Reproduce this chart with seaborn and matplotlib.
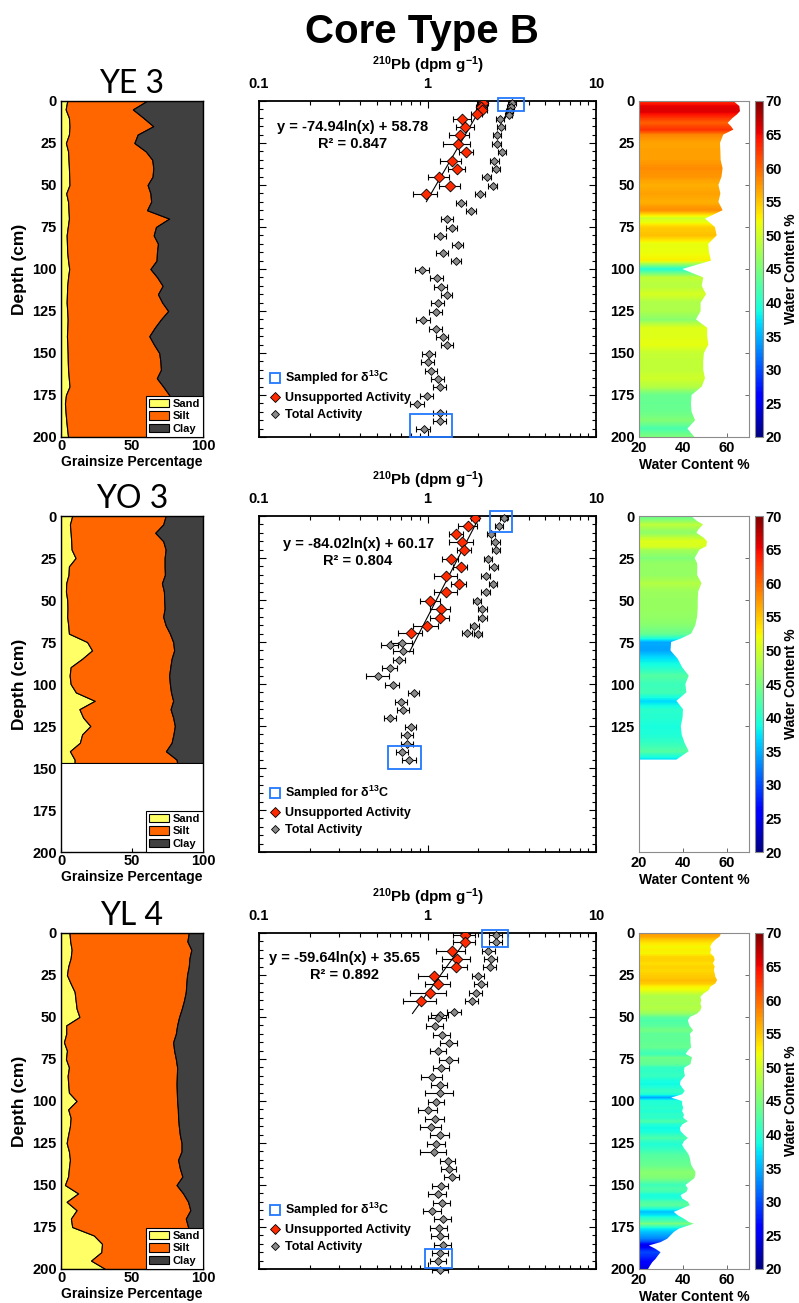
import numpy as np
import matplotlib
matplotlib.use("Agg")
import matplotlib.pyplot as plt
import seaborn as sns
from matplotlib.lines import Line2D
from matplotlib.patches import Patch, Rectangle
from matplotlib.ticker import LogLocator, MultipleLocator, FixedLocator, NullFormatter, FixedFormatter
import matplotlib.colors as mcolors
import matplotlib.cm as cm

sns.set_style("ticks")
plt.rcParams["font.family"] = ["Liberation Sans", "DejaVu Sans"]
plt.rcParams["font.weight"] = "bold"
plt.rcParams["axes.labelweight"] = "bold"
plt.rcParams["text.color"] = "black"
plt.rcParams["axes.labelcolor"] = "black"
plt.rcParams["xtick.color"] = "black"
plt.rcParams["ytick.color"] = "black"
plt.rcParams["mathtext.fontset"] = "custom"
plt.rcParams["mathtext.rm"] = "Liberation Sans:bold"
plt.rcParams["mathtext.it"] = "Liberation Sans:bold"
plt.rcParams["mathtext.bf"] = "Liberation Sans:bold"
plt.rcParams["mathtext.default"] = "rm"

# ---------------------------------------------------------------- data
cores = ["YE 3", "YO 3", "YL 4"]

# grain size (depth in cm, percentages)
ye3_gs_depth = list(range(0, 201, 5))
ye3_sand = [4.4, 3.3, 5.6, 6.0, 5.6, 3.5, 5.0, 5.3, 5.6, 5.8, 6.0, 3.7, 5.0, 5.3, 5.6, 4.8, 4.0, 4.2, 4.4, 5.0,
            5.8, 5.0, 4.4, 4.2, 4.0, 4.4, 4.7, 4.5, 4.2, 4.5, 4.7, 4.8, 5.0, 5.5, 6.0, 3.5, 2.8, 3.2, 3.7, 4.3, 5.0]
ye3_clay = [39.6, 49.4, 42.0, 35.0, 46.0, 48.3, 40.3, 35.7, 35.0, 35.5, 39.0, 37.0, 36.5, 39.4, 23.8, 33.1, 34.7,
            31.7, 32.4, 32.7, 37.0, 32.2, 28.4, 31.7, 28.7, 24.5, 29.6, 34.0, 37.8, 34.5, 30.8, 30.0, 29.6, 32.5,
            28.0, 23.8, 23.3, 23.5, 23.5, 23.7, 23.8]

yo3_gs_depth = list(range(0, 146, 5)) + [147]
yo3_sand = [7.9, 6.3, 6.8, 7.2, 7.5, 10.3, 5.6, 5.3, 3.7, 3.5, 4.4, 4.6, 4.4, 5.1, 5.6, 18.4, 21.9, 14.9, 6.8,
            6.1, 6.8, 10.5, 23.8, 13.0, 15.6, 20.7, 14.9, 13.3, 6.3, 9.6, 9.6]
yo3_clay = [26.3, 28.0, 33.6, 28.0, 26.3, 27.0, 27.0, 26.8, 28.9, 27.5, 27.3, 27.0, 28.0, 26.3, 23.3, 21.0, 20.3,
            22.1, 23.0, 23.8, 23.3, 22.5, 21.0, 22.8, 21.0, 19.8, 20.8, 22.1, 26.1, 18.6, 18.2]

yl4_gs_depth = list(range(0, 201, 5))
yl4_sand = [6.0, 6.5, 7.5, 6.8, 5.1, 4.2, 6.8, 9.6, 10.3, 11.0, 13.0, 3.7, 3.7, 2.1, 4.2, 3.5, 5.6, 4.7, 5.1, 5.6,
            11.0, 5.1, 6.8, 6.3, 5.1, 4.0, 5.6, 6.3, 5.6, 5.0, 2.8, 12.1, 4.0, 11.0, 7.0, 7.9, 23.1, 28.9, 28.4,
            21.2, 31.2]
yl4_clay = [10.0, 11.0, 8.2, 9.5, 10.0, 11.2, 11.7, 12.1, 13.3, 14.9, 16.8, 18.2, 19.1, 21.0, 20.3, 19.1, 18.2,
            18.4, 18.6, 18.4, 18.2, 17.7, 17.5, 17.0, 16.3, 15.1, 15.1, 17.5, 16.3, 14.5, 18.6, 14.0, 10.5, 8.9,
            12.1, 10.5, 10.0, 10.0, 10.0, 10.0, 10.0]

# 210Pb unsupported activity (dpm/g)
ye3_unsup_depth = [1, 3.5, 5.5, 8, 10.5, 15.5, 20.5, 25.5, 30.5, 35.5, 40.5, 45.5, 50.5, 55.5]
ye3_unsup = [2.13, 2.09, 2.12, 1.97, 1.61, 1.68, 1.56, 1.51, 1.70, 1.39, 1.49, 1.17, 1.36, 0.98]
ye3_unsup_err = [0.15, 0.15, 0.15, 0.15, 0.20, 0.20, 0.21, 0.28, 0.17, 0.20, 0.17, 0.17, 0.19, 0.16]

yo3_unsup_depth = [1, 6, 10.5, 15.5, 20.5, 25.5, 30.5, 35.5, 40.5, 45.5, 50.5, 55.5, 60.5, 65.5, 69.5]
yo3_unsup = [1.91, 1.74, 1.48, 1.60, 1.65, 1.37, 1.57, 1.29, 1.54, 1.29, 1.04, 1.20, 1.19, 0.99, 0.80]
yo3_unsup_err = [0.10, 0.23, 0.14, 0.25, 0.15, 0.15, 0.15, 0.20, 0.16, 0.20, 0.14, 0.16, 0.16, 0.17, 0.13]

yl4_unsup_depth = [1, 5.5, 10.5, 15.5, 20.5, 25.5, 30.5, 35.5, 40.5]
yl4_unsup = [1.66, 1.66, 1.40, 1.50, 1.47, 1.09, 1.16, 1.04, 0.92]
yl4_unsup_err = [0.25, 0.25, 0.27, 0.28, 0.25, 0.21, 0.20, 0.25, 0.20]

# 210Pb total activity (dpm/g)
ye3_total_depth = [1, 3.5, 6, 8.5] + [10.5 + 5 * i for i in range(38)]
ye3_total = [3.18, 3.12, 3.08, 3.04, 2.69, 2.74, 2.60, 2.58, 2.77, 2.49, 2.56, 2.24, 2.44, 2.06,
             1.59, 1.82, 1.31, 1.39, 1.19, 1.51, 1.23, 1.48, 0.93, 1.14, 1.20, 1.30, 1.15, 1.12, 0.94, 1.12,
             1.23, 1.31, 1.02, 1.00, 1.05, 1.15, 1.18, 0.99, 0.87, 1.18, 1.18, 0.95]
ye3_total_err = [0.15, 0.15, 0.14, 0.14, 0.15, 0.15, 0.14, 0.15, 0.14, 0.15, 0.15, 0.14, 0.15, 0.14,
                 0.11, 0.12, 0.10, 0.10, 0.10, 0.11, 0.10, 0.11, 0.09, 0.10, 0.10, 0.10, 0.10, 0.10, 0.09, 0.10,
                 0.10, 0.10, 0.09, 0.09, 0.09, 0.10, 0.10, 0.09, 0.08, 0.10, 0.10, 0.09]

yo3_total_depth = [1, 6, 10.5, 15.5, 20.5, 25.5, 30.5, 35.5, 40.5, 45.5, 50.5, 55.5, 60.5, 65.5, 69.5, 70.5,
                   75.5, 76.5, 80.5, 85.5, 90.5, 95.5, 100.5, 105.5, 110.5, 115.5, 120.5, 125.5, 130.5, 135.5,
                   140.5, 145.5]
yo3_total = [2.83, 2.66, 2.38, 2.53, 2.55, 2.28, 2.48, 2.21, 2.46, 2.21, 1.97, 2.12, 2.12, 1.90, 1.72, 2.00,
             0.71, 0.60, 0.72, 0.68, 0.60, 0.51, 0.62, 0.83, 0.70, 0.72, 0.60, 0.80, 0.76, 0.76, 0.71, 0.78]
yo3_total_err = [0.15, 0.14, 0.13, 0.15, 0.14, 0.13, 0.15, 0.13, 0.14, 0.13, 0.12, 0.13, 0.13, 0.12, 0.11, 0.12,
                 0.10, 0.07, 0.10, 0.06, 0.06, 0.08, 0.06, 0.06, 0.06, 0.06, 0.05, 0.06, 0.06, 0.06, 0.06, 0.07]

yl4_total_depth = [1, 5.5, 10.5, 15.5, 20.5, 25.5, 30.5, 35.5, 40.5, 47, 49, 50.5] + [55.5 + 5 * i for i in range(30)]
yl4_total = [2.54, 2.54, 2.30, 2.38, 2.34, 2.00, 2.07, 1.94, 1.83, 1.44, 1.19, 1.15,
             1.11, 1.22, 1.34, 1.16, 1.34, 1.21, 1.07, 1.18, 1.19, 1.13, 1.01, 1.11, 1.05, 1.19, 1.13, 1.09,
             1.32, 1.34, 1.40, 1.20, 1.15, 1.22, 1.07, 1.24, 1.17, 1.19, 1.24, 1.19, 1.16, 1.19]
yl4_total_err = [0.22, 0.22, 0.20, 0.22, 0.20, 0.17, 0.17, 0.17, 0.16, 0.14, 0.14, 0.14,
                 0.13, 0.14, 0.15, 0.13, 0.17, 0.13, 0.15, 0.13, 0.22, 0.13, 0.13, 0.14, 0.15, 0.16, 0.14, 0.19,
                 0.13, 0.14, 0.14, 0.13, 0.14, 0.14, 0.13, 0.14, 0.13, 0.14, 0.14, 0.13, 0.13, 0.13]

# log fits of unsupported activity: depth = -a ln(x) + b
fit_a = [74.94, 84.02, 59.64]
fit_b = [58.78, 60.17, 35.65]
fit_r2 = [0.847, 0.804, 0.892]
fit_depth_end = [60, 81, 48]

# intervals sampled for d13C: (top depth, bottom depth, low activity, high activity)
ye3_sampled = [(-1.5, 6.0, 2.62, 3.74), (186.5, 200.0, 0.79, 1.39)]
yo3_sampled = [(-3.0, 9.3, 2.34, 3.19), (137.0, 150.5, 0.58, 0.91)]
yl4_sampled = [(-2.0, 8.3, 2.12, 3.02), (188.0, 199.6, 0.97, 1.39)]

# water content (%)
ye3_wc_depth = [0, 3, 6, 8, 10, 13, 15, 17, 20, 25, 30, 35, 40, 45, 50, 55, 60, 65, 70, 75, 80, 85, 90, 95, 100,
                105, 110, 115, 120, 125, 130, 135, 140, 145, 150, 155, 160, 165, 170, 175, 180, 185, 190, 195, 200]
ye3_wc = [62.9, 65.6, 65.9, 64.5, 62.6, 60.3, 61.8, 62.9, 58.3, 56.8, 57.0, 57.1, 58.0, 57.5, 56.1, 57.0, 56.1,
          58.0, 50.0, 54.5, 55.3, 51.5, 51.8, 52.7, 39.7, 49.2, 48.5, 50.5, 48.0, 48.0, 45.9, 51.0, 51.0, 51.5,
          49.5, 49.2, 49.2, 50.0, 48.5, 43.9, 43.6, 43.9, 45.5, 42.0, 45.2]

yo3_wc_depth = [0, 3, 5, 8, 10, 13, 15, 18, 20, 25, 28, 30, 35, 40, 45, 50, 55, 60, 65, 70, 73, 75, 80, 85, 90,
                95, 100, 105, 110, 115, 120, 125, 130, 135, 140, 145]
yo3_wc = [43.7, 46.4, 49.1, 47.0, 46.1, 49.5, 50.9, 50.6, 47.5, 45.3, 46.4, 46.5, 46.4, 48.4, 46.9, 46.7, 46.7,
          46.4, 45.6, 43.7, 38.9, 34.6, 34.3, 37.6, 39.6, 42.6, 41.1, 41.5, 37.0, 40.0, 39.8, 39.0, 39.4, 40.7,
          42.6, 37.0]

yl4_wc_depth = (list(range(0, 53, 2)) + [55, 58, 60, 62, 65, 68, 70, 72, 74, 76, 78, 80, 82, 85, 88]
                + list(range(90, 173, 2)) + [173, 175, 176, 178] + list(range(180, 201, 2)))
yl4_wc = [57.3, 56.7, 54.7, 53.2, 52.4, 52.7, 52.4, 54.0, 54.4, 53.6, 54.4, 54.0, 54.4, 54.7, 55.5, 54.7, 52.4,
          51.7, 49.4, 47.9, 48.3, 47.9, 48.4, 47.9, 46.4, 43.1, 42.2,
          42.9, 44.6, 43.1, 43.4, 43.4, 43.7, 42.2, 41.2, 44.1, 43.7, 43.4, 40.7, 40.4, 40.9, 38.9,
          38.6, 39.6, 40.8, 39.6, 34.6, 39.6, 39.6, 40.1, 39.6, 40.4, 40.1, 42.2, 39.6, 38.6, 38.9, 40.4, 42.2,
          40.4, 39.6, 40.4, 41.6, 42.6, 43.1, 43.4, 43.7, 44.6, 45.6, 45.6, 45.1, 43.1, 41.1, 42.2, 41.6, 38.9,
          39.6, 42.2, 43.1, 39.6, 35.8, 37.6, 40.4, 42.6,
          44.9, 40.4, 38.1, 35.8,
          34.3, 32.8, 29.8, 24.5, 27.5, 29.8, 28.6, 27.5, 26.0, 25.0, 24.1]

wc_depth_ticks = [list(range(0, 201, 25)), list(range(0, 126, 25)), list(range(0, 201, 25))]

grain = [(ye3_gs_depth, ye3_sand, ye3_clay), (yo3_gs_depth, yo3_sand, yo3_clay), (yl4_gs_depth, yl4_sand, yl4_clay)]
unsup = [(ye3_unsup_depth, ye3_unsup, ye3_unsup_err), (yo3_unsup_depth, yo3_unsup, yo3_unsup_err),
         (yl4_unsup_depth, yl4_unsup, yl4_unsup_err)]
total = [(ye3_total_depth, ye3_total, ye3_total_err), (yo3_total_depth, yo3_total, yo3_total_err),
         (yl4_total_depth, yl4_total, yl4_total_err)]
sampled = [ye3_sampled, yo3_sampled, yl4_sampled]
water = [(ye3_wc_depth, ye3_wc), (yo3_wc_depth, yo3_wc), (yl4_wc_depth, yl4_wc)]

# ---------------------------------------------------------------- style
SAND = "#FFFF66"
SILT = "#FF6600"
CLAY = "#404040"
RED = "#FF2A00"
GREY = "#8A8A8A"
BLUE = "#2277FF"
FRAME_GREY = "#8C8C8C"
wc_norm = mcolors.Normalize(vmin=20, vmax=70)
wc_cmap = plt.get_cmap("jet")

W, H = 799, 1303
fig = plt.figure(figsize=(W / 100, H / 100), dpi=100)


def box(x0, y0, x1, y1):
    return [x0 / W, 1 - y1 / H, (x1 - x0) / W, (y1 - y0) / H]


row_tops = [101, 516, 933]
ROW_H = 336

fig.text(0.528, 1 - 32 / H, "Core Type B", ha="center", va="center", fontsize=29, weight="bold",
         color="black")

for i, core in enumerate(cores):
    top = row_tops[i]
    bot = top + ROW_H

    # ---------------- grain size
    ax = fig.add_axes(box(61, top, 203, bot))
    d, sand, clay = (np.array(v, dtype=float) for v in grain[i])
    silt = 100 - sand - clay
    ax.fill_betweenx(d, 0, sand, facecolor=SAND, edgecolor="k", lw=0.8, zorder=1)
    ax.fill_betweenx(d, sand, sand + silt, facecolor=SILT, edgecolor="k", lw=0.8, zorder=1)
    ax.fill_betweenx(d, sand + silt, 100, facecolor=CLAY, edgecolor="k", lw=0.8, zorder=1)
    ax.set_axisbelow(True)
    ax.set_xlim(0, 100)
    ax.set_ylim(200, 0)
    ax.set_xticks([0, 50, 100])
    ax.set_yticks(range(0, 201, 25))
    ax.tick_params(axis="x", direction="in", length=3, pad=1.5, labelsize=10.5, top=False)
    ax.tick_params(axis="y", length=0, pad=3, labelsize=10.5)
    for t in ax.get_xticklabels() + ax.get_yticklabels():
        t.set_fontweight("bold")
    for s in ax.spines.values():
        s.set_linewidth(1.0)
        s.set_color("k")
    ax.set_xlabel("Grainsize Percentage", fontsize=10, labelpad=1.5)
    ax.set_ylabel("Depth (cm)", fontsize=12.5, labelpad=4)
    ax.set_title(core, fontsize=23, fontfamily="Lato", fontweight="normal", pad=6)
    leg = ax.legend(handles=[Patch(facecolor=SAND, edgecolor="k", lw=0.8, label="Sand"),
                             Patch(facecolor=SILT, edgecolor="k", lw=0.8, label="Silt"),
                             Patch(facecolor=CLAY, edgecolor="k", lw=0.8, label="Clay")],
                    loc="lower right", borderaxespad=0, fancybox=False, framealpha=1,
                    edgecolor="k", prop={"weight": "bold", "size": 8},
                    handlelength=1.8, handleheight=0.8, handletextpad=0.3,
                    labelspacing=0.2, borderpad=0.3)
    leg.get_frame().set_linewidth(0.8)

    # ---------------- 210Pb
    ax = fig.add_axes(box(259, top, 596, bot))
    ax.set_xscale("log")
    dt, vt, et = (np.array(v, dtype=float) for v in total[i])
    du, vu, eu = (np.array(v, dtype=float) for v in unsup[i])

    a, b = fit_a[i], fit_b[i]
    fd = np.linspace(0, fit_depth_end[i], 50)
    ax.plot(np.exp((b - fd) / a), fd, color="k", lw=0.8, zorder=2)

    ax.errorbar(vt, dt, xerr=et, fmt="none", ecolor="k", elinewidth=0.8, capsize=2, capthick=0.8, zorder=2,
                clip_on=False)
    sns.scatterplot(x=vt, y=dt, ax=ax, marker="D", s=16, color=GREY, edgecolor="k", linewidth=0.6,
                    zorder=3, clip_on=False, legend=False)
    ax.errorbar(vu, du, xerr=eu, fmt="none", ecolor="k", elinewidth=0.8, capsize=2, capthick=0.8, zorder=4)
    sns.scatterplot(x=vu, y=du, ax=ax, marker="D", s=30, color=RED, edgecolor="k", linewidth=0.6,
                    zorder=5, legend=False)

    for (d0, d1, x0, x1) in sampled[i]:
        ax.add_patch(Rectangle((x0, d0), x1 - x0, d1 - d0, facecolor="none", edgecolor=BLUE, lw=1.3,
                               zorder=6, clip_on=False))

    ax.set_xlim(0.1, 10)
    ax.set_ylim(200, 0)
    ax.xaxis.set_major_locator(FixedLocator([0.1, 1, 10]))
    ax.xaxis.set_major_formatter(FixedFormatter(["0.1", "1", "10"]))
    ax.xaxis.set_minor_locator(LogLocator(base=10, subs=np.arange(2, 10)))
    ax.xaxis.set_minor_formatter(NullFormatter())
    ax.yaxis.set_major_locator(MultipleLocator(25))
    ax.yaxis.set_minor_locator(MultipleLocator(5))
    ax.tick_params(axis="x", which="both", direction="in", top=True, bottom=True,
                   labeltop=True, labelbottom=False, pad=7, labelsize=10.5)
    ax.tick_params(axis="x", which="major", length=5, width=0.8)
    ax.tick_params(axis="x", which="minor", length=3, width=0.8)
    ax.tick_params(axis="y", which="both", direction="in", left=True, right=True, labelleft=False)
    ax.tick_params(axis="y", which="major", length=5, width=0.8)
    ax.tick_params(axis="y", which="minor", length=3, width=0.8)
    for t in ax.get_xticklabels():
        t.set_fontweight("bold")
    for s in ax.spines.values():
        s.set_linewidth(1.3)
        s.set_color("k")
    ax.xaxis.set_label_position("top")
    ax.set_xlabel(r"$^{210}$Pb (dpm g$^{-1}$)", fontsize=11, labelpad=5)
    ax.set_ylabel("")

    ex = [0.279, 0.294, 0.255][i]
    ey = [0.077, 0.084, 0.074][i]
    ax.text(ex, 1 - ey, f"y = -{a:.2f}ln(x) + {b:.2f}", transform=ax.transAxes, ha="center", va="center",
            fontsize=10.5, weight="bold")
    ax.text(ex, 1 - ey - 0.05, f"R² = {fit_r2[i]:.3f}", transform=ax.transAxes, ha="center", va="center",
            fontsize=10.5, weight="bold")

    handles = [Line2D([], [], ls="none", marker="s", ms=7, mfc="none", mec=BLUE, mew=1.3,
                      label=r"Sampled for δ$^{13}$C"),
               Line2D([], [], ls="none", marker="D", ms=5, mfc=RED, mec="k", mew=0.6,
                      label="Unsupported Activity"),
               Line2D([], [], ls="none", marker="D", ms=4.5, mfc=GREY, mec="k", mew=0.6,
                      label="Total Activity")]
    ax.legend(handles=handles, loc="lower left", bbox_to_anchor=(0.015, 0.032), borderaxespad=0,
              frameon=False, prop={"weight": "bold", "size": 9}, handlelength=1.0,
              handletextpad=0.3, labelspacing=0.4, borderpad=0.4)

    # ---------------- water content
    ax = fig.add_axes(box(639, top, 749, bot))
    dw = np.array(water[i][0], dtype=float)
    vw = np.array(water[i][1], dtype=float)
    outline = np.vstack([np.column_stack([np.full_like(dw, 20.0), dw]),
                         np.column_stack([vw, dw])[::-1]])
    clip = plt.Polygon(outline, closed=True, facecolor="none", edgecolor="none", transform=ax.transData)
    ax.add_patch(clip)
    fine = np.arange(0, dw.max() + 1e-6, 0.2)
    im = ax.imshow(np.interp(fine, dw, vw)[:, None], cmap=wc_cmap, norm=wc_norm, aspect="auto",
                   extent=[20, 70, fine.max(), 0], interpolation="nearest", zorder=1)
    im.set_clip_path(clip)
    ax.set_axisbelow(True)
    ax.set_xlim(20, 70)
    ax.set_ylim(200, 0)
    ax.set_xticks([20, 40, 60])
    ax.set_yticks(wc_depth_ticks[i])
    ax.tick_params(axis="both", direction="in", length=3, width=0.6, color="#555555",
                   labelsize=10.5, left=True, right=True, bottom=True, top=False, pad=3)
    for t in ax.get_xticklabels() + ax.get_yticklabels():
        t.set_fontweight("bold")
    for s in ax.spines.values():
        s.set_color(FRAME_GREY)
        s.set_linewidth(0.8)
    ax.set_xlabel("Water Content %", fontsize=10, labelpad=2)

    cax = fig.add_axes(box(755, top, 763, bot))
    cb = fig.colorbar(cm.ScalarMappable(norm=wc_norm, cmap=wc_cmap), cax=cax)
    cb.set_ticks(range(20, 71, 5))
    cb.outline.set_edgecolor(FRAME_GREY)
    cb.outline.set_linewidth(0.8)
    cax.tick_params(direction="in", length=3, width=0.6, color="#333333", left=True, right=True,
                    labelsize=10.5, pad=2)
    for t in cax.get_yticklabels():
        t.set_fontweight("bold")
    cb.set_label("Water Content %", fontsize=10, weight="bold", labelpad=1)

fig.savefig("out.png", dpi=100)
